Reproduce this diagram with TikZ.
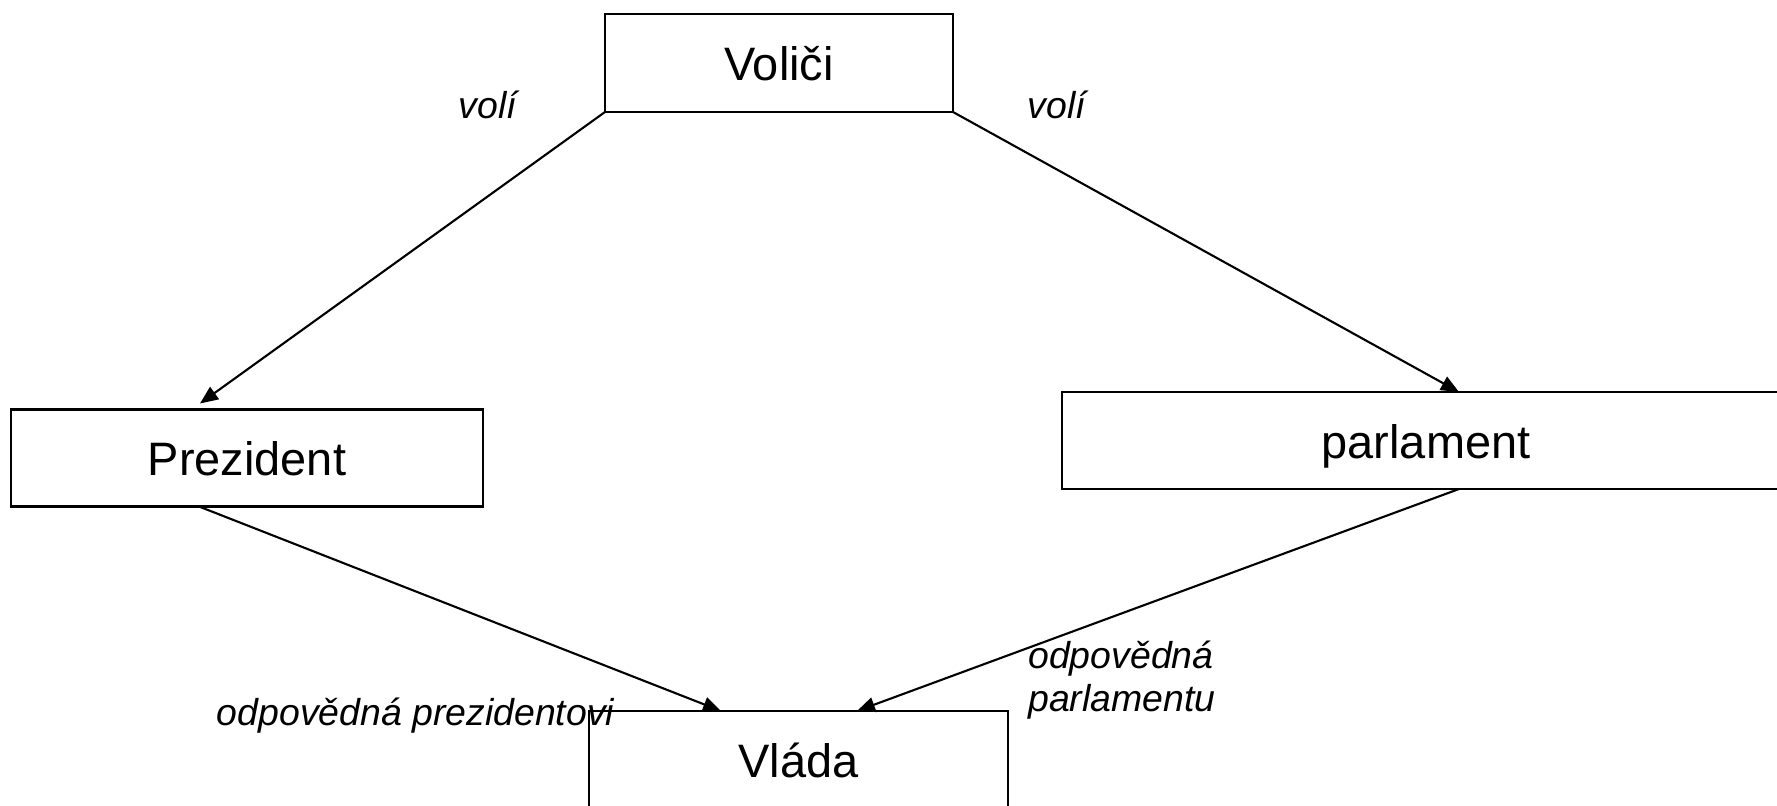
\documentclass[tikz,border=0pt]{standalone}
\usepackage{fontspec}
\setmainfont{Liberation Sans}
\usetikzlibrary{arrows.meta}

\tikzset{
  box/.style={draw, line width=1.2pt, inner sep=0pt, outer sep=0pt, text height=20pt, text depth=0pt, font=\fontsize{26.7}{32}\selectfont},
  arr/.style={-{Triangle[length=0.36cm,width=0.3cm]}, line width=1.2pt},
  lbl/.style={inner sep=0pt, font=\fontsize{21.3}{24.5}\selectfont\itshape}
}

\begin{document}
\begin{tikzpicture}
    \useasboundingbox (0,0) rectangle (35.54,16.1);
    \clip (0,0) rectangle (35.54,16.1);

    \node [box, minimum width=6.96cm, minimum height=1.96cm] (voters) at (15.58,14.84) {Voliči};
    \node [box, minimum width=9.44cm, minimum height=1.94cm] (president) at (4.94,6.94) {Prezident};
    \node [box, minimum width=14.56cm, minimum height=1.94cm] (parliament) at (28.52,7.29) {parlament};
    \node [box, minimum width=8.38cm, minimum height=1.94cm] (government) at (15.97,0.91) {Vláda};

    \node [lbl] (elects1) at (9.76,14.0) {volí};
    \node [lbl] (elects2) at (21.14,14.0) {volí};
    \node [lbl] (resp1) at (8.31,1.79) {odpovědná prezidentovi};
    \node [lbl, align=left, anchor=west] (resp2) at (20.56,2.5) {odpovědná\\parlamentu};

    \draw [arr] (voters.south west) -- ([xshift=-0.94cm, yshift=0.12cm]president.north);
    \draw [arr] (voters.south east) -- ([xshift=0.66cm]parliament.north);
    \draw [arr] ([xshift=-0.96cm]president.south) -- ([xshift=-1.55cm]government.north);
    \draw [arr] ([xshift=0.66cm]parliament.south) -- ([xshift=1.17cm]government.north);
\end{tikzpicture}
\end{document}
